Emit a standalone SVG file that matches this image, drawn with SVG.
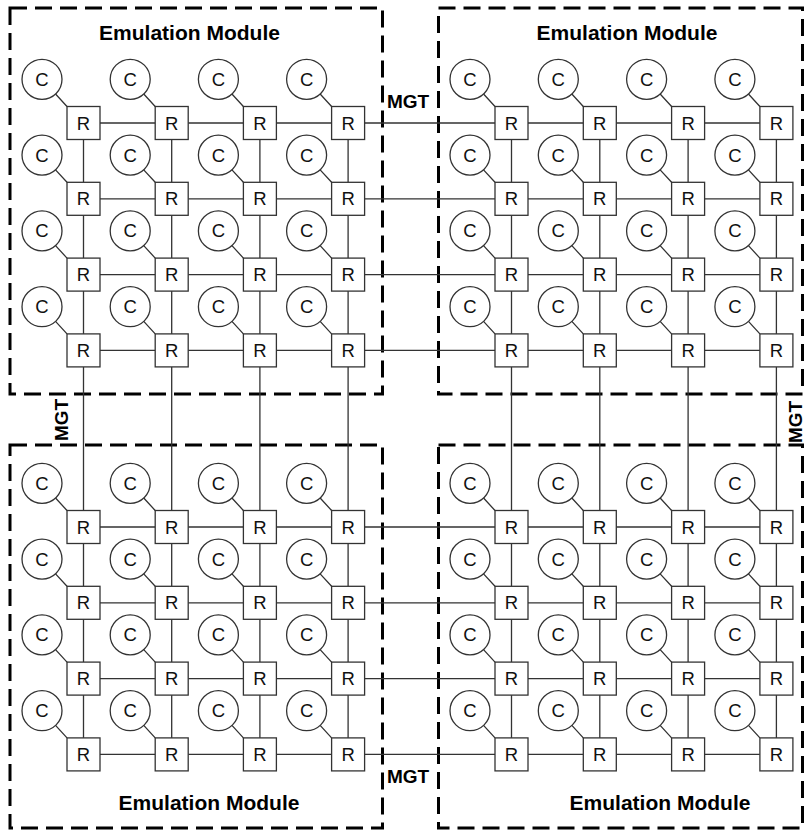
<svg xmlns="http://www.w3.org/2000/svg" width="805" height="830" viewBox="0 0 805 830">
<style>
.mod{fill:none;stroke:#000;stroke-width:3;stroke-dasharray:17 8}
.lbl{font-family:"Liberation Sans",Arial,sans-serif;font-weight:bold;font-size:19px;fill:#000}
.big{font-size:21px}
.mid{text-anchor:middle}
.r rect{fill:#fff;stroke:#333;stroke-width:1.3}
.c circle{fill:#fff;stroke:#333;stroke-width:1.3}
.r text,.c text{font-family:"Liberation Sans",Arial,sans-serif;font-size:18.5px;fill:#111;text-anchor:middle}
.ln{fill:none;stroke:#333;stroke-width:1.3}
</style>
<rect width="805" height="830" fill="#fff"/>
<g id="modules">
<rect id="module-tl" class="mod" x="10" y="8" width="372.5" height="386"/>
<rect id="module-tr" class="mod" x="438.5" y="8" width="364" height="386"/>
<rect id="module-bl" class="mod" x="10" y="445" width="372.5" height="383"/>
<rect id="module-br" class="mod" x="438.5" y="445" width="364" height="383"/>
</g>
<g id="labels">
<text class="lbl big mid" x="189.5" y="40">Emulation Module</text>
<text class="lbl big mid" x="627" y="40">Emulation Module</text>
<text class="lbl big mid" x="209" y="809.5">Emulation Module</text>
<text class="lbl big mid" x="660" y="809.5">Emulation Module</text>
<text class="lbl" x="387" y="108.3">MGT</text>
<text class="lbl" x="387" y="783.3">MGT</text>
<text class="lbl mid" transform="translate(68,420) rotate(-90)">MGT</text>
<text class="lbl mid" transform="translate(801.5,422) rotate(-90)">MGT</text>
</g>
<g id="connectors" class="ln">
<path d="M100 123H155.2M188.2 123H243.4M276.4 123H331.6M364.6 123H495M528 123H583.3M616.3 123H671.6M704.6 123H759.9"/>
<path d="M100 198.8H155.2M188.2 198.8H243.4M276.4 198.8H331.6M364.6 198.8H495M528 198.8H583.3M616.3 198.8H671.6M704.6 198.8H759.9"/>
<path d="M100 274.6H155.2M188.2 274.6H243.4M276.4 274.6H331.6M364.6 274.6H495M528 274.6H583.3M616.3 274.6H671.6M704.6 274.6H759.9"/>
<path d="M100 350.4H155.2M188.2 350.4H243.4M276.4 350.4H331.6M364.6 350.4H495M528 350.4H583.3M616.3 350.4H671.6M704.6 350.4H759.9"/>
<path d="M100 527H155.2M188.2 527H243.4M276.4 527H331.6M364.6 527H495M528 527H583.3M616.3 527H671.6M704.6 527H759.9"/>
<path d="M100 602.8H155.2M188.2 602.8H243.4M276.4 602.8H331.6M364.6 602.8H495M528 602.8H583.3M616.3 602.8H671.6M704.6 602.8H759.9"/>
<path d="M100 678.6H155.2M188.2 678.6H243.4M276.4 678.6H331.6M364.6 678.6H495M528 678.6H583.3M616.3 678.6H671.6M704.6 678.6H759.9"/>
<path d="M100 754.4H155.2M188.2 754.4H243.4M276.4 754.4H331.6M364.6 754.4H495M528 754.4H583.3M616.3 754.4H671.6M704.6 754.4H759.9"/>
<path d="M83.5 139.5V182.3M83.5 215.3V258.1M83.5 291.1V333.9M83.5 366.9V510.5M83.5 543.5V586.3M83.5 619.3V662.1M83.5 695.1V737.9"/>
<path d="M171.7 139.5V182.3M171.7 215.3V258.1M171.7 291.1V333.9M171.7 366.9V510.5M171.7 543.5V586.3M171.7 619.3V662.1M171.7 695.1V737.9"/>
<path d="M259.9 139.5V182.3M259.9 215.3V258.1M259.9 291.1V333.9M259.9 366.9V510.5M259.9 543.5V586.3M259.9 619.3V662.1M259.9 695.1V737.9"/>
<path d="M348.1 139.5V182.3M348.1 215.3V258.1M348.1 291.1V333.9M348.1 366.9V510.5M348.1 543.5V586.3M348.1 619.3V662.1M348.1 695.1V737.9"/>
<path d="M511.5 139.5V182.3M511.5 215.3V258.1M511.5 291.1V333.9M511.5 366.9V510.5M511.5 543.5V586.3M511.5 619.3V662.1M511.5 695.1V737.9"/>
<path d="M599.8 139.5V182.3M599.8 215.3V258.1M599.8 291.1V333.9M599.8 366.9V510.5M599.8 543.5V586.3M599.8 619.3V662.1M599.8 695.1V737.9"/>
<path d="M688.1 139.5V182.3M688.1 215.3V258.1M688.1 291.1V333.9M688.1 366.9V510.5M688.1 543.5V586.3M688.1 619.3V662.1M688.1 695.1V737.9"/>
<path d="M776.4 139.5V182.3M776.4 215.3V258.1M776.4 291.1V333.9M776.4 366.9V510.5M776.4 543.5V586.3M776.4 619.3V662.1M776.4 695.1V737.9"/>
<path d="M55.54 94.03l11.46 12.47M143.74 94.03l11.46 12.47M231.94 94.03l11.46 12.47M320.14 94.03l11.46 12.47M483.54 94.03l11.46 12.47M571.84 94.03l11.46 12.47M660.14 94.03l11.46 12.47M748.44 94.03l11.46 12.47"/>
<path d="M55.54 169.83l11.46 12.47M143.74 169.83l11.46 12.47M231.94 169.83l11.46 12.47M320.14 169.83l11.46 12.47M483.54 169.83l11.46 12.47M571.84 169.83l11.46 12.47M660.14 169.83l11.46 12.47M748.44 169.83l11.46 12.47"/>
<path d="M55.54 245.63l11.46 12.47M143.74 245.63l11.46 12.47M231.94 245.63l11.46 12.47M320.14 245.63l11.46 12.47M483.54 245.63l11.46 12.47M571.84 245.63l11.46 12.47M660.14 245.63l11.46 12.47M748.44 245.63l11.46 12.47"/>
<path d="M55.54 321.43l11.46 12.47M143.74 321.43l11.46 12.47M231.94 321.43l11.46 12.47M320.14 321.43l11.46 12.47M483.54 321.43l11.46 12.47M571.84 321.43l11.46 12.47M660.14 321.43l11.46 12.47M748.44 321.43l11.46 12.47"/>
<path d="M55.54 498.03l11.46 12.47M143.74 498.03l11.46 12.47M231.94 498.03l11.46 12.47M320.14 498.03l11.46 12.47M483.54 498.03l11.46 12.47M571.84 498.03l11.46 12.47M660.14 498.03l11.46 12.47M748.44 498.03l11.46 12.47"/>
<path d="M55.54 573.83l11.46 12.47M143.74 573.83l11.46 12.47M231.94 573.83l11.46 12.47M320.14 573.83l11.46 12.47M483.54 573.83l11.46 12.47M571.84 573.83l11.46 12.47M660.14 573.83l11.46 12.47M748.44 573.83l11.46 12.47"/>
<path d="M55.54 649.63l11.46 12.47M143.74 649.63l11.46 12.47M231.94 649.63l11.46 12.47M320.14 649.63l11.46 12.47M483.54 649.63l11.46 12.47M571.84 649.63l11.46 12.47M660.14 649.63l11.46 12.47M748.44 649.63l11.46 12.47"/>
<path d="M55.54 725.43l11.46 12.47M143.74 725.43l11.46 12.47M231.94 725.43l11.46 12.47M320.14 725.43l11.46 12.47M483.54 725.43l11.46 12.47M571.84 725.43l11.46 12.47M660.14 725.43l11.46 12.47M748.44 725.43l11.46 12.47"/>
</g>
<g id="cores">
<g id="c00" class="c"><circle cx="42" cy="79.3" r="20"/><text x="42" y="85.8">C</text></g>
<g id="c01" class="c"><circle cx="130.2" cy="79.3" r="20"/><text x="130.2" y="85.8">C</text></g>
<g id="c02" class="c"><circle cx="218.4" cy="79.3" r="20"/><text x="218.4" y="85.8">C</text></g>
<g id="c03" class="c"><circle cx="306.6" cy="79.3" r="20"/><text x="306.6" y="85.8">C</text></g>
<g id="c04" class="c"><circle cx="470" cy="79.3" r="20"/><text x="470" y="85.8">C</text></g>
<g id="c05" class="c"><circle cx="558.3" cy="79.3" r="20"/><text x="558.3" y="85.8">C</text></g>
<g id="c06" class="c"><circle cx="646.6" cy="79.3" r="20"/><text x="646.6" y="85.8">C</text></g>
<g id="c07" class="c"><circle cx="734.9" cy="79.3" r="20"/><text x="734.9" y="85.8">C</text></g>
<g id="c10" class="c"><circle cx="42" cy="155.1" r="20"/><text x="42" y="161.6">C</text></g>
<g id="c11" class="c"><circle cx="130.2" cy="155.1" r="20"/><text x="130.2" y="161.6">C</text></g>
<g id="c12" class="c"><circle cx="218.4" cy="155.1" r="20"/><text x="218.4" y="161.6">C</text></g>
<g id="c13" class="c"><circle cx="306.6" cy="155.1" r="20"/><text x="306.6" y="161.6">C</text></g>
<g id="c14" class="c"><circle cx="470" cy="155.1" r="20"/><text x="470" y="161.6">C</text></g>
<g id="c15" class="c"><circle cx="558.3" cy="155.1" r="20"/><text x="558.3" y="161.6">C</text></g>
<g id="c16" class="c"><circle cx="646.6" cy="155.1" r="20"/><text x="646.6" y="161.6">C</text></g>
<g id="c17" class="c"><circle cx="734.9" cy="155.1" r="20"/><text x="734.9" y="161.6">C</text></g>
<g id="c20" class="c"><circle cx="42" cy="230.9" r="20"/><text x="42" y="237.4">C</text></g>
<g id="c21" class="c"><circle cx="130.2" cy="230.9" r="20"/><text x="130.2" y="237.4">C</text></g>
<g id="c22" class="c"><circle cx="218.4" cy="230.9" r="20"/><text x="218.4" y="237.4">C</text></g>
<g id="c23" class="c"><circle cx="306.6" cy="230.9" r="20"/><text x="306.6" y="237.4">C</text></g>
<g id="c24" class="c"><circle cx="470" cy="230.9" r="20"/><text x="470" y="237.4">C</text></g>
<g id="c25" class="c"><circle cx="558.3" cy="230.9" r="20"/><text x="558.3" y="237.4">C</text></g>
<g id="c26" class="c"><circle cx="646.6" cy="230.9" r="20"/><text x="646.6" y="237.4">C</text></g>
<g id="c27" class="c"><circle cx="734.9" cy="230.9" r="20"/><text x="734.9" y="237.4">C</text></g>
<g id="c30" class="c"><circle cx="42" cy="306.7" r="20"/><text x="42" y="313.2">C</text></g>
<g id="c31" class="c"><circle cx="130.2" cy="306.7" r="20"/><text x="130.2" y="313.2">C</text></g>
<g id="c32" class="c"><circle cx="218.4" cy="306.7" r="20"/><text x="218.4" y="313.2">C</text></g>
<g id="c33" class="c"><circle cx="306.6" cy="306.7" r="20"/><text x="306.6" y="313.2">C</text></g>
<g id="c34" class="c"><circle cx="470" cy="306.7" r="20"/><text x="470" y="313.2">C</text></g>
<g id="c35" class="c"><circle cx="558.3" cy="306.7" r="20"/><text x="558.3" y="313.2">C</text></g>
<g id="c36" class="c"><circle cx="646.6" cy="306.7" r="20"/><text x="646.6" y="313.2">C</text></g>
<g id="c37" class="c"><circle cx="734.9" cy="306.7" r="20"/><text x="734.9" y="313.2">C</text></g>
<g id="c40" class="c"><circle cx="42" cy="483.3" r="20"/><text x="42" y="489.8">C</text></g>
<g id="c41" class="c"><circle cx="130.2" cy="483.3" r="20"/><text x="130.2" y="489.8">C</text></g>
<g id="c42" class="c"><circle cx="218.4" cy="483.3" r="20"/><text x="218.4" y="489.8">C</text></g>
<g id="c43" class="c"><circle cx="306.6" cy="483.3" r="20"/><text x="306.6" y="489.8">C</text></g>
<g id="c44" class="c"><circle cx="470" cy="483.3" r="20"/><text x="470" y="489.8">C</text></g>
<g id="c45" class="c"><circle cx="558.3" cy="483.3" r="20"/><text x="558.3" y="489.8">C</text></g>
<g id="c46" class="c"><circle cx="646.6" cy="483.3" r="20"/><text x="646.6" y="489.8">C</text></g>
<g id="c47" class="c"><circle cx="734.9" cy="483.3" r="20"/><text x="734.9" y="489.8">C</text></g>
<g id="c50" class="c"><circle cx="42" cy="559.1" r="20"/><text x="42" y="565.6">C</text></g>
<g id="c51" class="c"><circle cx="130.2" cy="559.1" r="20"/><text x="130.2" y="565.6">C</text></g>
<g id="c52" class="c"><circle cx="218.4" cy="559.1" r="20"/><text x="218.4" y="565.6">C</text></g>
<g id="c53" class="c"><circle cx="306.6" cy="559.1" r="20"/><text x="306.6" y="565.6">C</text></g>
<g id="c54" class="c"><circle cx="470" cy="559.1" r="20"/><text x="470" y="565.6">C</text></g>
<g id="c55" class="c"><circle cx="558.3" cy="559.1" r="20"/><text x="558.3" y="565.6">C</text></g>
<g id="c56" class="c"><circle cx="646.6" cy="559.1" r="20"/><text x="646.6" y="565.6">C</text></g>
<g id="c57" class="c"><circle cx="734.9" cy="559.1" r="20"/><text x="734.9" y="565.6">C</text></g>
<g id="c60" class="c"><circle cx="42" cy="634.9" r="20"/><text x="42" y="641.4">C</text></g>
<g id="c61" class="c"><circle cx="130.2" cy="634.9" r="20"/><text x="130.2" y="641.4">C</text></g>
<g id="c62" class="c"><circle cx="218.4" cy="634.9" r="20"/><text x="218.4" y="641.4">C</text></g>
<g id="c63" class="c"><circle cx="306.6" cy="634.9" r="20"/><text x="306.6" y="641.4">C</text></g>
<g id="c64" class="c"><circle cx="470" cy="634.9" r="20"/><text x="470" y="641.4">C</text></g>
<g id="c65" class="c"><circle cx="558.3" cy="634.9" r="20"/><text x="558.3" y="641.4">C</text></g>
<g id="c66" class="c"><circle cx="646.6" cy="634.9" r="20"/><text x="646.6" y="641.4">C</text></g>
<g id="c67" class="c"><circle cx="734.9" cy="634.9" r="20"/><text x="734.9" y="641.4">C</text></g>
<g id="c70" class="c"><circle cx="42" cy="710.7" r="20"/><text x="42" y="717.2">C</text></g>
<g id="c71" class="c"><circle cx="130.2" cy="710.7" r="20"/><text x="130.2" y="717.2">C</text></g>
<g id="c72" class="c"><circle cx="218.4" cy="710.7" r="20"/><text x="218.4" y="717.2">C</text></g>
<g id="c73" class="c"><circle cx="306.6" cy="710.7" r="20"/><text x="306.6" y="717.2">C</text></g>
<g id="c74" class="c"><circle cx="470" cy="710.7" r="20"/><text x="470" y="717.2">C</text></g>
<g id="c75" class="c"><circle cx="558.3" cy="710.7" r="20"/><text x="558.3" y="717.2">C</text></g>
<g id="c76" class="c"><circle cx="646.6" cy="710.7" r="20"/><text x="646.6" y="717.2">C</text></g>
<g id="c77" class="c"><circle cx="734.9" cy="710.7" r="20"/><text x="734.9" y="717.2">C</text></g>
</g>
<g id="routers">
<g id="r00" class="r"><rect x="67" y="106.5" width="33" height="33"/><text x="83.5" y="129.5">R</text></g>
<g id="r01" class="r"><rect x="155.2" y="106.5" width="33" height="33"/><text x="171.7" y="129.5">R</text></g>
<g id="r02" class="r"><rect x="243.4" y="106.5" width="33" height="33"/><text x="259.9" y="129.5">R</text></g>
<g id="r03" class="r"><rect x="331.6" y="106.5" width="33" height="33"/><text x="348.1" y="129.5">R</text></g>
<g id="r04" class="r"><rect x="495" y="106.5" width="33" height="33"/><text x="511.5" y="129.5">R</text></g>
<g id="r05" class="r"><rect x="583.3" y="106.5" width="33" height="33"/><text x="599.8" y="129.5">R</text></g>
<g id="r06" class="r"><rect x="671.6" y="106.5" width="33" height="33"/><text x="688.1" y="129.5">R</text></g>
<g id="r07" class="r"><rect x="759.9" y="106.5" width="33" height="33"/><text x="776.4" y="129.5">R</text></g>
<g id="r10" class="r"><rect x="67" y="182.3" width="33" height="33"/><text x="83.5" y="205.3">R</text></g>
<g id="r11" class="r"><rect x="155.2" y="182.3" width="33" height="33"/><text x="171.7" y="205.3">R</text></g>
<g id="r12" class="r"><rect x="243.4" y="182.3" width="33" height="33"/><text x="259.9" y="205.3">R</text></g>
<g id="r13" class="r"><rect x="331.6" y="182.3" width="33" height="33"/><text x="348.1" y="205.3">R</text></g>
<g id="r14" class="r"><rect x="495" y="182.3" width="33" height="33"/><text x="511.5" y="205.3">R</text></g>
<g id="r15" class="r"><rect x="583.3" y="182.3" width="33" height="33"/><text x="599.8" y="205.3">R</text></g>
<g id="r16" class="r"><rect x="671.6" y="182.3" width="33" height="33"/><text x="688.1" y="205.3">R</text></g>
<g id="r17" class="r"><rect x="759.9" y="182.3" width="33" height="33"/><text x="776.4" y="205.3">R</text></g>
<g id="r20" class="r"><rect x="67" y="258.1" width="33" height="33"/><text x="83.5" y="281.1">R</text></g>
<g id="r21" class="r"><rect x="155.2" y="258.1" width="33" height="33"/><text x="171.7" y="281.1">R</text></g>
<g id="r22" class="r"><rect x="243.4" y="258.1" width="33" height="33"/><text x="259.9" y="281.1">R</text></g>
<g id="r23" class="r"><rect x="331.6" y="258.1" width="33" height="33"/><text x="348.1" y="281.1">R</text></g>
<g id="r24" class="r"><rect x="495" y="258.1" width="33" height="33"/><text x="511.5" y="281.1">R</text></g>
<g id="r25" class="r"><rect x="583.3" y="258.1" width="33" height="33"/><text x="599.8" y="281.1">R</text></g>
<g id="r26" class="r"><rect x="671.6" y="258.1" width="33" height="33"/><text x="688.1" y="281.1">R</text></g>
<g id="r27" class="r"><rect x="759.9" y="258.1" width="33" height="33"/><text x="776.4" y="281.1">R</text></g>
<g id="r30" class="r"><rect x="67" y="333.9" width="33" height="33"/><text x="83.5" y="356.9">R</text></g>
<g id="r31" class="r"><rect x="155.2" y="333.9" width="33" height="33"/><text x="171.7" y="356.9">R</text></g>
<g id="r32" class="r"><rect x="243.4" y="333.9" width="33" height="33"/><text x="259.9" y="356.9">R</text></g>
<g id="r33" class="r"><rect x="331.6" y="333.9" width="33" height="33"/><text x="348.1" y="356.9">R</text></g>
<g id="r34" class="r"><rect x="495" y="333.9" width="33" height="33"/><text x="511.5" y="356.9">R</text></g>
<g id="r35" class="r"><rect x="583.3" y="333.9" width="33" height="33"/><text x="599.8" y="356.9">R</text></g>
<g id="r36" class="r"><rect x="671.6" y="333.9" width="33" height="33"/><text x="688.1" y="356.9">R</text></g>
<g id="r37" class="r"><rect x="759.9" y="333.9" width="33" height="33"/><text x="776.4" y="356.9">R</text></g>
<g id="r40" class="r"><rect x="67" y="510.5" width="33" height="33"/><text x="83.5" y="533.5">R</text></g>
<g id="r41" class="r"><rect x="155.2" y="510.5" width="33" height="33"/><text x="171.7" y="533.5">R</text></g>
<g id="r42" class="r"><rect x="243.4" y="510.5" width="33" height="33"/><text x="259.9" y="533.5">R</text></g>
<g id="r43" class="r"><rect x="331.6" y="510.5" width="33" height="33"/><text x="348.1" y="533.5">R</text></g>
<g id="r44" class="r"><rect x="495" y="510.5" width="33" height="33"/><text x="511.5" y="533.5">R</text></g>
<g id="r45" class="r"><rect x="583.3" y="510.5" width="33" height="33"/><text x="599.8" y="533.5">R</text></g>
<g id="r46" class="r"><rect x="671.6" y="510.5" width="33" height="33"/><text x="688.1" y="533.5">R</text></g>
<g id="r47" class="r"><rect x="759.9" y="510.5" width="33" height="33"/><text x="776.4" y="533.5">R</text></g>
<g id="r50" class="r"><rect x="67" y="586.3" width="33" height="33"/><text x="83.5" y="609.3">R</text></g>
<g id="r51" class="r"><rect x="155.2" y="586.3" width="33" height="33"/><text x="171.7" y="609.3">R</text></g>
<g id="r52" class="r"><rect x="243.4" y="586.3" width="33" height="33"/><text x="259.9" y="609.3">R</text></g>
<g id="r53" class="r"><rect x="331.6" y="586.3" width="33" height="33"/><text x="348.1" y="609.3">R</text></g>
<g id="r54" class="r"><rect x="495" y="586.3" width="33" height="33"/><text x="511.5" y="609.3">R</text></g>
<g id="r55" class="r"><rect x="583.3" y="586.3" width="33" height="33"/><text x="599.8" y="609.3">R</text></g>
<g id="r56" class="r"><rect x="671.6" y="586.3" width="33" height="33"/><text x="688.1" y="609.3">R</text></g>
<g id="r57" class="r"><rect x="759.9" y="586.3" width="33" height="33"/><text x="776.4" y="609.3">R</text></g>
<g id="r60" class="r"><rect x="67" y="662.1" width="33" height="33"/><text x="83.5" y="685.1">R</text></g>
<g id="r61" class="r"><rect x="155.2" y="662.1" width="33" height="33"/><text x="171.7" y="685.1">R</text></g>
<g id="r62" class="r"><rect x="243.4" y="662.1" width="33" height="33"/><text x="259.9" y="685.1">R</text></g>
<g id="r63" class="r"><rect x="331.6" y="662.1" width="33" height="33"/><text x="348.1" y="685.1">R</text></g>
<g id="r64" class="r"><rect x="495" y="662.1" width="33" height="33"/><text x="511.5" y="685.1">R</text></g>
<g id="r65" class="r"><rect x="583.3" y="662.1" width="33" height="33"/><text x="599.8" y="685.1">R</text></g>
<g id="r66" class="r"><rect x="671.6" y="662.1" width="33" height="33"/><text x="688.1" y="685.1">R</text></g>
<g id="r67" class="r"><rect x="759.9" y="662.1" width="33" height="33"/><text x="776.4" y="685.1">R</text></g>
<g id="r70" class="r"><rect x="67" y="737.9" width="33" height="33"/><text x="83.5" y="760.9">R</text></g>
<g id="r71" class="r"><rect x="155.2" y="737.9" width="33" height="33"/><text x="171.7" y="760.9">R</text></g>
<g id="r72" class="r"><rect x="243.4" y="737.9" width="33" height="33"/><text x="259.9" y="760.9">R</text></g>
<g id="r73" class="r"><rect x="331.6" y="737.9" width="33" height="33"/><text x="348.1" y="760.9">R</text></g>
<g id="r74" class="r"><rect x="495" y="737.9" width="33" height="33"/><text x="511.5" y="760.9">R</text></g>
<g id="r75" class="r"><rect x="583.3" y="737.9" width="33" height="33"/><text x="599.8" y="760.9">R</text></g>
<g id="r76" class="r"><rect x="671.6" y="737.9" width="33" height="33"/><text x="688.1" y="760.9">R</text></g>
<g id="r77" class="r"><rect x="759.9" y="737.9" width="33" height="33"/><text x="776.4" y="760.9">R</text></g>
</g>
</svg>
